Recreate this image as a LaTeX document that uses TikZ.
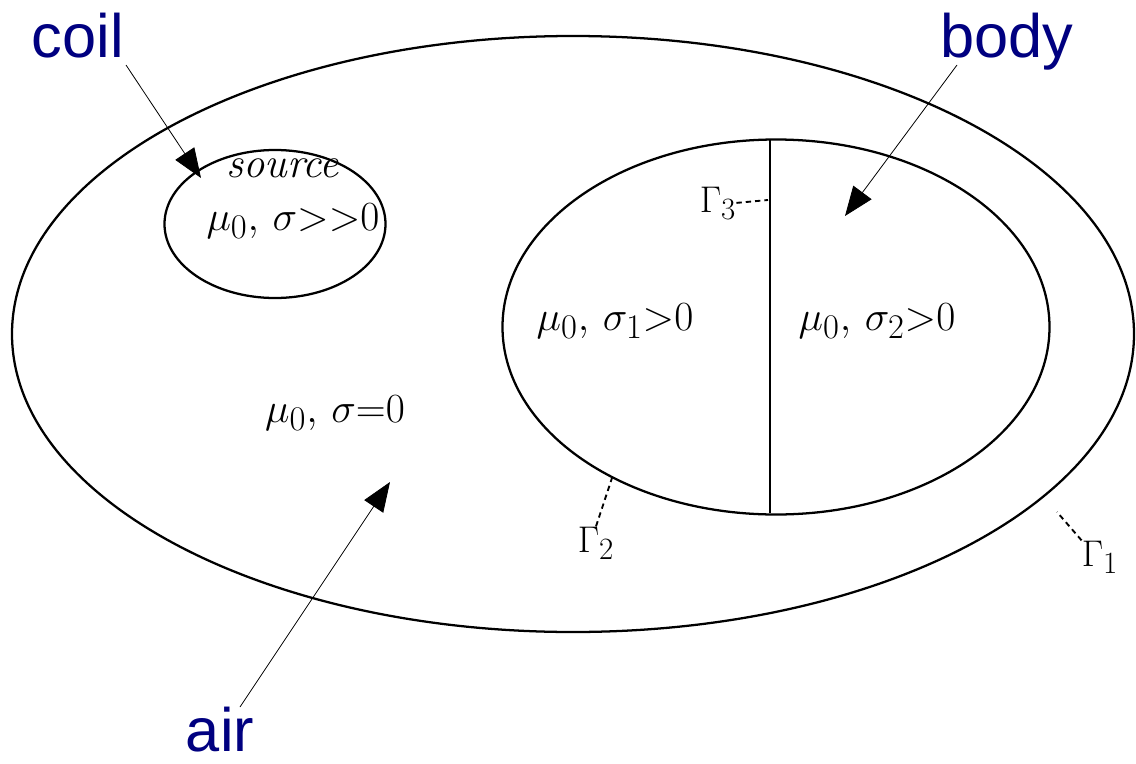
\documentclass[tikz,border=0pt]{standalone}
\usepackage{fontspec}
\newfontfamily\labelfont{Liberation Sans}
\usetikzlibrary{arrows.meta,shapes.geometric,positioning}
\definecolor{labelblue}{RGB}{0,0,128}
\newcommand{\matlabel}[1]{\scalebox{1.25}{$#1$}}
\newcommand{\bndlabel}[1]{\scalebox{1.12}{$#1$}}

\begin{document}
\begin{tikzpicture}[x=0.75pt,y=-0.75pt]
	 \tikzstyle{region}=[ellipse,draw,line width=1.7pt,inner sep=0pt]
	 \tikzstyle{cutline}=[draw,line width=1.8pt]
	 \tikzstyle{pointer}=[draw,line width=0.6pt,-{Triangle[length=22pt,width=17pt]}]
	 \tikzstyle{leader}=[draw,line width=1.4pt,dash pattern=on 4pt off 3pt]
	 \tikzstyle{partname}=[font=\labelfont\fontsize{46}{50}\selectfont,text=labelblue,inner sep=0pt,anchor=base]
	 \tikzstyle{param}=[font=\fontsize{24.88}{28}\selectfont,inner sep=0pt,anchor=base]
	 \useasboundingbox (0,0) rectangle (1136,764);

	 % regions
	 \node[region,minimum width=841.5pt,minimum height=447pt] (outer) at (573,334) {};
	 \node[region,minimum width=165.75pt,minimum height=111pt] (coilreg) at (275,224) {};
	 \node[region,minimum width=410.25pt,minimum height=281.25pt] (bodyreg) at (776,327) {};

	 % interface between the two body parts
	 \coordinate (cuttop) at (770,140);
	 \coordinate (cutbot) at (770,513);
	 \draw[cutline] (cuttop) -- (cutbot);

	 % material data
	 \node[param,font=\fontsize{32}{34}\selectfont] (src) at (283,177) {\textit{source}};
	 \node[param] (coilmat) at (293,230) {\matlabel{\mu_0,\,\sigma{>}{>}0}};
	 \node[param] (body1) at (615,330) {\matlabel{\mu_0,\,\sigma_1{>}0}};
	 \node[param] (body2) at (877,330) {\matlabel{\mu_0,\,\sigma_2{>}0}};
	 \node[param] (airmat) at (335,422) {\matlabel{\mu_0,\,\sigma{=}0}};

	 % boundaries
	 \node[param] (g3) at (718,212) {\bndlabel{\Gamma_3}};
	 \node[param] (g2) at (596,552) {\bndlabel{\Gamma_2}};
	 \node[param] (g1) at (1100,566) {\bndlabel{\Gamma_1}};
	 \coordinate (g3end) at (768,200);
	 \coordinate (g2end) at (612,478);
	 \coordinate (g1end) at (1057,512);
	 \draw[leader] (g3.east) -- (g3end);
	 \draw[leader] (g2.north) -- (g2end);
	 \draw[leader] (g1.north west) -- (g1end);

	 % names
	 \node[partname] (coil) at (78,57) {coil};
	 \node[partname] (body) at (1007,57) {body};
	 \node[partname] (air) at (220,751) {air};
	 \coordinate (coilfrom) at (126,65);
	 \coordinate (coiltip) at (201,178);
	 \coordinate (bodyfrom) at (957,65);
	 \coordinate (bodytip) at (845,216);
	 \coordinate (airfrom) at (240,707);
	 \coordinate (airtip) at (390,482);
	 \draw[pointer] (coilfrom) -- (coiltip);
	 \draw[pointer] (bodyfrom) -- (bodytip);
	 \draw[pointer] (airfrom) -- (airtip);

 \end{tikzpicture}
\end{document}
